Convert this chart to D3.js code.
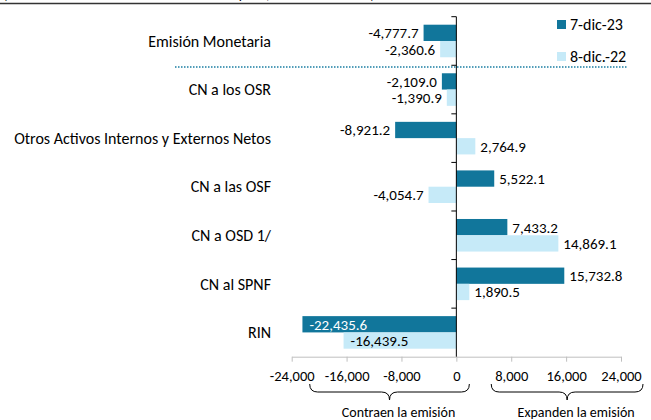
<!DOCTYPE html>
<html>
<head>
<meta charset="utf-8">
<script src="https://cdn.jsdelivr.net/npm/d3@7"></script>
<style>
  body { margin: 0; background: #fff; }
  text { font-family: Carlito, Lato, "Noto Sans", sans-serif; fill: #000; }
</style>
</head>
<body>
<div class="chart-container"></div>
<script>
const categories = ["Emisión Monetaria", "CN a los OSR", "Otros Activos Internos y Externos Netos",
                    "CN a las OSF", "CN a OSD 1/", "CN al SPNF", "RIN"];
const series = ["7-dic-23", "8-dic.-22"];
const dic23 = [-4777.7, -2109.0, -8921.2, 5522.1, 7433.2, 15732.8, -22435.6];
const dic22 = [-2360.6, -1390.9, 2764.9, -4054.7, 14869.1, 1890.5, -16439.5];
const xTicks = [-24000, -16000, -8000, 0, 8000, 16000, 24000];

const width = 651, height = 420;
const colors = { "7-dic-23": "#11769b", "8-dic.-22": "#c6eaf8" };

const svg = d3.select(".chart-container").append("svg")
    .attr("width", width)
    .attr("height", height);

// subtitle cut off at the top, like the source image
svg.append("text")
    .attr("x", 3).attr("y", -1)
    .style("font-size", "14px")
    .text("(Variación acumulada en millones de Lempiras, al 7 de diciembre)");
svg.append("line")
    .attr("x1", 0).attr("x2", width)
    .attr("y1", 3.5).attr("y2", 3.5)
    .attr("stroke", "#333").attr("stroke-width", 1.5);

const x = d3.scaleLinear()
    .domain([-24000, 24000])
    .range([291.7, 621]);

const y = d3.scaleBand()
    .domain(categories)
    .range([16.7, 356.7]);

const y1 = d3.scaleBand()
    .domain(series)
    .range([8, y.bandwidth() - 8]);

const data = categories.map((c, i) => ({ cat: c, vals: [
    { s: series[0], v: dic23[i] },
    { s: series[1], v: dic22[i] }
]}));

const hyphen = s => s.replace("\u2212", "-");

// x axis
const xAxis = svg.append("g")
    .attr("transform", "translate(0," + 356.7 + ")")
    .call(d3.axisBottom(x).tickValues(xTicks).tickSize(5).tickSizeOuter(0)
        .tickFormat(d => hyphen(d3.format(",")(d))));
xAxis.select(".domain").attr("stroke", "#bfbfbf");
xAxis.selectAll(".tick line").attr("stroke", "#bfbfbf");
xAxis.selectAll(".tick text")
    .attr("y", 14)
    .style("font-size", "14.5px")
    .style("font-family", "Carlito, Lato, sans-serif")
    .attr("fill", "#000");

// bars
const groups = svg.selectAll(".grp")
    .data(data)
    .enter().append("g")
    .attr("transform", d => "translate(0," + y(d.cat) + ")");

groups.selectAll("rect")
    .data(d => d.vals)
    .enter().append("rect")
    .attr("x", d => x(Math.min(0, d.v)))
    .attr("width", d => Math.abs(x(d.v) - x(0)))
    .attr("y", d => y1(d.s))
    .attr("height", y1.bandwidth())
    .attr("fill", d => colors[d.s]);

// value labels
const fmt = d3.format(",.1f");
groups.selectAll(".lbl")
    .data(d => d.vals.map(v => Object.assign({ cat: d.cat }, v)))
    .enter().append("text")
    .attr("class", "lbl")
    .style("font-size", "15px")
    .attr("y", d => y1(d.s) + y1.bandwidth() / 2)
    .attr("dy", "0.36em")
    .attr("x", d => {
        if (d.cat === "RIN") return x(d.v) + 7;
        return d.v < 0 ? x(d.v) - 5 : x(d.v) + 5;
    })
    .attr("text-anchor", d => (d.cat === "RIN" || d.v >= 0) ? "start" : "end")
    .style("fill", d => (d.cat === "RIN" && d.s === series[0]) ? "#fff" : "#000")
    .text(d => hyphen(fmt(d.v)));

// y axis
const yAxis = svg.append("g")
    .attr("transform", "translate(" + x(0) + ",0)");
yAxis.append("line")
    .attr("y1", 16.7).attr("y2", 356.7)
    .attr("stroke", "#000");
yAxis.selectAll(".yt")
    .data(categories)
    .enter().append("line")
    .attr("x1", -5).attr("x2", 0)
    .attr("y1", d => y(d)).attr("y2", d => y(d))
    .attr("stroke", "#000");

// category labels
svg.selectAll(".cat")
    .data(categories)
    .enter().append("text")
    .attr("x", 271)
    .attr("y", d => y(d) + y.bandwidth() / 2)
    .attr("dy", "0.36em")
    .attr("text-anchor", "end")
    .style("font-size", "16px")
    .text(d => d);

// dotted separator
svg.append("line")
    .attr("x1", 175).attr("x2", 627)
    .attr("y1", 67).attr("y2", 67)
    .attr("stroke", "#1a7ea3")
    .attr("stroke-width", 1.5)
    .attr("stroke-dasharray", "1.5,1.5");

// legend
const legend = svg.selectAll(".leg")
    .data(series)
    .enter().append("g")
    .attr("transform", (d, i) => "translate(557," + (20 + i * 32) + ")");
legend.append("rect")
    .attr("width", 9).attr("height", 9)
    .attr("fill", d => colors[d]);
legend.append("text")
    .attr("x", 13).attr("y", 4.5)
    .attr("dy", "0.36em")
    .style("font-size", "16px")
    .text(d => d);

// braces
function brace(x0, x1, yTop) {
    const m = (x0 + x1) / 2, r = 8;
    return "M" + x0 + "," + yTop +
        " Q" + x0 + "," + (yTop + r) + " " + (x0 + r) + "," + (yTop + r) +
        " L" + (m - r) + "," + (yTop + r) +
        " Q" + m + "," + (yTop + r) + " " + m + "," + (yTop + 2 * r) +
        " Q" + m + "," + (yTop + r) + " " + (m + r) + "," + (yTop + r) +
        " L" + (x1 - r) + "," + (yTop + r) +
        " Q" + x1 + "," + (yTop + r) + " " + x1 + "," + yTop;
}
const braces = [
    { x0: x(-24000) + 18, x1: x(0) + 13, label: "Contraen la emisión" },
    { x0: x(8000) - 20, x1: x(24000) + 22, label: "Expanden la emisión" }
];
svg.selectAll(".brace")
    .data(braces)
    .enter().append("path")
    .attr("d", d => brace(d.x0, d.x1, 384))
    .attr("fill", "none")
    .attr("stroke", "#000")
    .attr("stroke-width", 1);
svg.selectAll(".blbl")
    .data(braces)
    .enter().append("text")
    .attr("x", d => (d.x0 + d.x1) / 2 + 9)
    .attr("y", 412)
    .attr("dy", "0.36em")
    .attr("text-anchor", "middle")
    .style("font-size", "14px")
    .text(d => d.label);
</script>
</body>
</html>
